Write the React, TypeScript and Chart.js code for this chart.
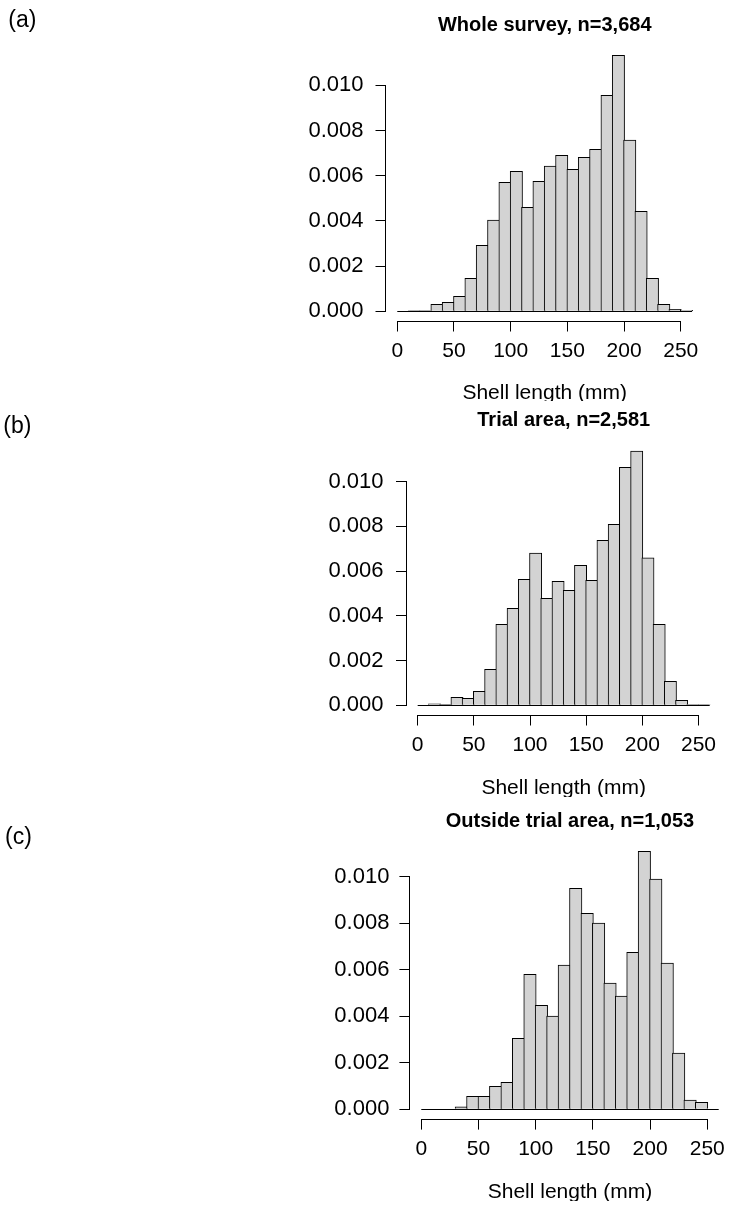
import React, { useEffect, useRef } from "react";
import { Chart, registerables } from "chart.js";

Chart.register(...registerables);

// ---------- data ----------
const binCenters = [5, 15, 25, 35, 45, 55, 65, 75, 85, 95, 105, 115, 125, 135, 145, 155, 165, 175, 185, 195, 205, 215, 225, 235, 245, 255];
const binWidth = 10;
const xTicks = [0, 50, 100, 150, 200, 250];
const yTicks = [0, 0.002, 0.004, 0.006, 0.008, 0.01];

const densityWhole = [0, 0.00003, 0.00003, 0.00031, 0.0004, 0.00066, 0.00146, 0.00292, 0.00403, 0.00571, 0.00619, 0.0046, 0.00575, 0.00642, 0.0069, 0.00628, 0.00681, 0.00717, 0.00956, 0.01133, 0.00758, 0.00442, 0.00146, 0.00031, 0.00009, 0.00004];
const densityTrial = [0, 0.00007, 0.00004, 0.00036, 0.00031, 0.00063, 0.00161, 0.00362, 0.00434, 0.00563, 0.0068, 0.00478, 0.00554, 0.00514, 0.00626, 0.00559, 0.00738, 0.00809, 0.01064, 0.01136, 0.00659, 0.00362, 0.00107, 0.00022, 0.00003, 0.00003];
const densityOutside = [0, 0, 0, 0.0001, 0.00056, 0.00056, 0.00099, 0.00116, 0.00305, 0.0058, 0.00447, 0.004, 0.0062, 0.0095, 0.00842, 0.008, 0.00542, 0.00487, 0.00675, 0.01109, 0.00989, 0.00628, 0.00241, 0.00039, 0.0003, 0];

const panelTitles = ["Whole survey, n=3,684", "Trial area, n=2,581", "Outside trial area, n=1,053"];
const panelLabels = ["(a)", "(b)", "(c)"];
const xAxisTitle = "Shell length (mm)";

// ---------- layout (page pixels) ----------
const FONT = "'Liberation Sans', Arial, Helvetica, sans-serif";
const CANVAS_H = 440;
const Y_BOX_W = 150;

type Geo = {
  top: number; cut: number;
  plotL: number; plotR: number; plotT: number; plotB: number;
  titleMid: number; xTickMid: number; xTitleMid: number;
  labelX: number; labelBase: number; yTickPad: number;
};

const geos: Geo[] = [
  { top: 0, cut: 401, plotL: 385.5, plotR: 703.9, plotT: 45.0, plotB: 321.5, titleMid: 25.8, xTickMid: 351.3, xTitleMid: 393.0, labelX: 8.3, labelBase: 26.7, yTickPad: 12 },
  { top: 401, cut: 797, plotL: 406.0, plotR: 721.4, plotT: 441.0, plotB: 715.5, titleMid: 420.8, xTickMid: 745.0, xTitleMid: 788.3, labelX: 3.3, labelBase: 433.4, yTickPad: 12.5 },
  { top: 797, cut: 1201, plotL: 409.4, plotR: 730.6, plotT: 840.9, plotB: 1119.6, titleMid: 821.7, xTickMid: 1149.5, xTitleMid: 1192.6, labelX: 5.0, labelBase: 843.7, yTickPad: 10 },
];

const seriesList = [densityWhole, densityTrial, densityOutside];

const rAxesPlugin = {
  id: "rAxes",
  afterDraw(chart: any, _args: any, opts: any) {
    const { ctx, chartArea } = chart;
    const xs = chart.scales.x;
    const ys = chart.scales.y;
    const al = (v: number) => Math.round(v - 0.5) + 0.5;
    ctx.save();
    ctx.strokeStyle = "#000";
    ctx.lineWidth = 1;
    // y axis line (first tick to last tick)
    const lx = al(chartArea.left);
    ctx.beginPath();
    ctx.moveTo(lx, al(ys.getPixelForValue(yTicks[0])) + 0.5);
    ctx.lineTo(lx, al(ys.getPixelForValue(yTicks[yTicks.length - 1])) - 0.5);
    ctx.stroke();
    // x axis line
    const by = al(chartArea.bottom);
    ctx.beginPath();
    ctx.moveTo(al(xs.getPixelForValue(xTicks[0])) - 0.5, by);
    ctx.lineTo(al(xs.getPixelForValue(xTicks[xTicks.length - 1])) + 0.5, by);
    ctx.stroke();
    // histogram baseline (zero-height bins)
    const y0 = al(ys.getPixelForValue(0));
    ctx.beginPath();
    ctx.moveTo(xs.getPixelForValue(binCenters[0] - binWidth / 2), y0);
    ctx.lineTo(xs.getPixelForValue(binCenters[binCenters.length - 1] + binWidth / 2), y0);
    ctx.stroke();
    // panel label
    ctx.fillStyle = "#000";
    ctx.font = `23px ${FONT}`;
    ctx.textBaseline = "alphabetic";
    ctx.textAlign = "left";
    ctx.fillText(opts.label, opts.labelX, opts.labelBase);
    ctx.restore();
  },
};

function Panel({ index }: { index: number }) {
  const ref = useRef<HTMLCanvasElement>(null);
  const g = geos[index];
  useEffect(() => {
    const values = seriesList[index];
    const edgeMin = binCenters[0] - binWidth / 2;
    const edgeMax = binCenters[binCenters.length - 1] + binWidth / 2;
    const span = edgeMax - edgeMin;
    const xMin = edgeMin - 0.04 * span;
    const xMax = edgeMax + 0.04 * span;
    const peak = Math.max(...values);
    const yMin = -0.04 * peak;
    const yMax = 1.04 * peak;
    const binPx = ((g.plotR - g.plotL) / (xMax - xMin)) * binWidth;

    const rel = (v: number) => v - g.top;
    const titleLH = 24;
    const tickLH = 21 * 1.2;
    const xBoxH = CANVAS_H - rel(g.plotB);

    const chart = new Chart(ref.current as HTMLCanvasElement, {
      type: "bar",
      data: {
        datasets: [
          {
            data: binCenters.map((x, i) => ({ x, y: values[i] })),
            backgroundColor: "#d3d3d3",
            borderColor: "#000000",
            borderWidth: 1,
            barThickness: binPx + 1,
          } as any,
        ],
      },
      options: {
        responsive: false,
        animation: false,
        devicePixelRatio: 1,
        layout: {
          padding: { left: g.plotL - Y_BOX_W, right: 740 - g.plotR, top: 0, bottom: 0 },
        },
        plugins: {
          legend: { display: false },
          tooltip: { enabled: false },
          title: {
            display: true,
            text: panelTitles[index],
            color: "#000",
            fullSize: false,
            align: "center",
            font: { family: FONT, size: 20, weight: "bold", lineHeight: 1.2 },
            padding: {
              top: rel(g.titleMid) - titleLH / 2,
              bottom: g.plotT - g.titleMid - titleLH / 2,
            },
          },
          rAxes: { label: panelLabels[index], labelX: g.labelX, labelBase: rel(g.labelBase) },
        } as any,
        scales: {
          x: {
            type: "linear",
            min: xMin,
            max: xMax,
            offset: false,
            bounds: "data",
            border: { display: false },
            grid: { display: true, drawOnChartArea: false, drawTicks: true, tickLength: 10, color: "#000", lineWidth: 1, offset: false },
            ticks: {
              color: "#000",
              font: { family: FONT, size: 21, lineHeight: 1.2 },
              padding: g.xTickMid - g.plotB - 10 - tickLH / 2,
              maxRotation: 0,
              autoSkip: false,
              callback: (v: any) => String(v),
            },
            title: {
              display: true,
              text: xAxisTitle,
              color: "#000",
              font: { family: FONT, size: 21, lineHeight: 1.2 },
              padding: { top: 0, bottom: CANVAS_H - rel(g.xTitleMid) - tickLH / 2 },
            },
            afterBuildTicks: (s: any) => {
              s.ticks = xTicks.map((v) => ({ value: v }));
            },
            afterFit: (s: any) => {
              s.height = xBoxH;
            },
          },
          y: {
            type: "linear",
            min: yMin,
            max: yMax,
            bounds: "data",
            border: { display: false },
            grid: { display: true, drawOnChartArea: false, drawTicks: true, tickLength: 10, color: "#000", lineWidth: 1 },
            ticks: {
              color: "#000",
              font: { family: FONT, size: 22, lineHeight: 1.2 },
              padding: g.yTickPad,
              callback: (v: any) => Number(v).toFixed(3),
            },
            afterBuildTicks: (s: any) => {
              s.ticks = yTicks.map((v) => ({ value: v }));
            },
            afterFit: (s: any) => {
              s.width = Y_BOX_W;
            },
          },
        },
      } as any,
      plugins: [rAxesPlugin as any],
    });
    return () => chart.destroy();
  }, [index]);

  return (
    <div
      style={{
        position: "absolute",
        left: 0,
        top: g.top,
        width: 740,
        height: g.cut - g.top,
        overflow: "hidden",
      }}
    >
      <canvas ref={ref} width={740} height={CANVAS_H} style={{ display: "block", width: 740, height: CANVAS_H }} />
    </div>
  );
}

export default function App() {
  return (
    <div style={{ position: "absolute", left: 0, top: 0, width: 740, height: 1212, background: "#fff", overflow: "hidden" }}>
      <Panel index={0} />
      <Panel index={1} />
      <Panel index={2} />
    </div>
  );
}
